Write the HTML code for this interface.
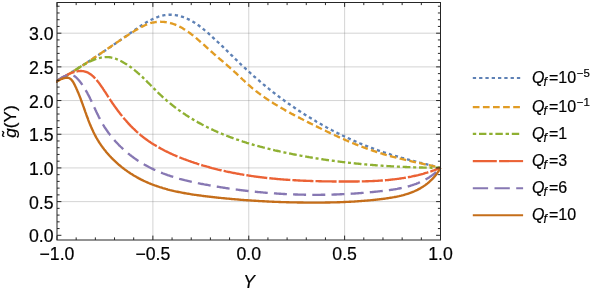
<!DOCTYPE html>
<html><head><meta charset="utf-8"><title>plot</title>
<style>
html,body{margin:0;padding:0;background:#fff;}
body{width:599px;height:294px;overflow:hidden;}
svg{display:block;font-family:"Liberation Sans",sans-serif;will-change:transform;}
text{fill:#000;stroke:#000;stroke-width:0.2px;}
</style></head><body>
<svg width="599" height="294" viewBox="0 0 599 294">
<rect x="0" y="0" width="599" height="294" fill="#ffffff"/>
<g stroke="#707070" stroke-opacity="0.36" stroke-width="0.85" fill="none">
<line x1="152.88" y1="2.5" x2="152.88" y2="240.0"/>
<line x1="248.75" y1="2.5" x2="248.75" y2="240.0"/>
<line x1="344.62" y1="2.5" x2="344.62" y2="240.0"/>
<line x1="57.0" y1="201.62" x2="440.5" y2="201.62"/>
<line x1="57.0" y1="167.93" x2="440.5" y2="167.93"/>
<line x1="57.0" y1="134.25" x2="440.5" y2="134.25"/>
<line x1="57.0" y1="100.56" x2="440.5" y2="100.56"/>
<line x1="57.0" y1="66.88" x2="440.5" y2="66.88"/>
<line x1="57.0" y1="33.19" x2="440.5" y2="33.19"/>
</g>
<clipPath id="c"><rect x="56.1" y="2.5" width="386.0" height="237.5"/></clipPath>
<g clip-path="url(#c)" fill="none" stroke-linejoin="round">
<path d="M55.5,82.10 L57.0,81.20 L58.0,80.63 L58.9,80.05 L59.9,79.48 L60.8,78.91 L61.7,78.34 L62.7,77.77 L63.6,77.20 L64.6,76.63 L65.5,76.06 L66.4,75.49 L67.3,74.92 L68.3,74.35 L69.2,73.78 L70.1,73.22 L71.0,72.65 L71.9,72.08 L72.8,71.51 L73.8,70.95 L74.7,70.38 L75.6,69.81 L76.5,69.24 L77.4,68.68 L78.3,68.11 L79.2,67.54 L80.1,66.97 L81.0,66.41 L81.9,65.84 L82.7,65.27 L83.6,64.70 L84.5,64.13 L85.4,63.56 L86.3,62.99 L87.2,62.42 L88.1,61.85 L88.9,61.28 L89.8,60.71 L90.7,60.13 L91.6,59.56 L92.5,58.98 L93.3,58.41 L94.2,57.83 L95.1,57.26 L96.0,56.68 L96.8,56.10 L97.7,55.52 L98.6,54.94 L99.5,54.36 L100.3,53.78 L101.2,53.19 L102.1,52.61 L103.0,52.02 L103.8,51.44 L104.7,50.85 L105.6,50.26 L106.5,49.67 L107.3,49.08 L108.2,48.48 L109.1,47.89 L110.0,47.29 L110.8,46.70 L111.7,46.10 L112.6,45.50 L113.5,44.89 L114.3,44.29 L115.2,43.68 L116.1,43.08 L117.0,42.47 L117.9,41.86 L118.7,41.24 L119.6,40.63 L120.5,40.01 L121.4,39.39 L122.3,38.77 L123.2,38.15 L124.1,37.53 L124.9,36.90 L125.8,36.27 L126.7,35.64 L127.6,35.01 L128.5,34.37 L129.4,33.74 L130.3,33.10 L131.2,32.45 L132.1,31.81 L133.0,31.17 L134.0,30.53 L134.9,29.88 L135.8,29.25 L136.7,28.61 L137.6,27.98 L138.5,27.35 L139.5,26.73 L140.4,26.11 L141.3,25.51 L142.2,24.91 L143.2,24.31 L144.1,23.73 L145.0,23.16 L146.0,22.60 L146.9,22.05 L147.9,21.52 L148.8,21.00 L149.8,20.49 L150.7,20.00 L151.7,19.53 L152.6,19.07 L153.6,18.63 L154.6,18.21 L155.5,17.81 L156.5,17.42 L157.5,17.07 L158.4,16.73 L159.4,16.41 L160.4,16.12 L161.4,15.85 L162.4,15.61 L163.4,15.40 L164.4,15.21 L165.4,15.05 L166.4,14.92 L167.4,14.82 L168.4,14.75 L169.4,14.70 L170.4,14.70 L171.4,14.72 L172.4,14.77 L173.5,14.86 L174.5,14.98 L175.5,15.12 L176.5,15.30 L177.6,15.50 L178.6,15.73 L179.6,15.98 L180.6,16.26 L181.6,16.57 L182.7,16.90 L183.7,17.26 L184.7,17.64 L185.7,18.04 L186.7,18.46 L187.6,18.90 L188.6,19.36 L189.6,19.85 L190.6,20.35 L191.5,20.87 L192.5,21.40 L193.4,21.96 L194.3,22.52 L195.2,23.11 L196.1,23.71 L197.0,24.32 L197.9,24.94 L198.8,25.58 L199.7,26.23 L200.6,26.89 L201.4,27.56 L202.3,28.24 L203.1,28.93 L204.0,29.62 L204.8,30.32 L205.7,31.03 L206.5,31.75 L207.3,32.46 L208.2,33.19 L209.0,33.91 L209.8,34.64 L210.6,35.38 L211.4,36.11 L212.2,36.84 L213.0,37.58 L213.8,38.31 L214.6,39.05 L215.4,39.79 L216.2,40.53 L217.0,41.27 L217.8,42.01 L218.6,42.75 L219.4,43.49 L220.1,44.24 L220.9,44.98 L221.7,45.72 L222.5,46.47 L223.3,47.21 L224.0,47.96 L224.8,48.70 L225.6,49.45 L226.3,50.19 L227.1,50.94 L227.9,51.68 L228.6,52.43 L229.4,53.17 L230.2,53.92 L230.9,54.66 L231.7,55.41 L232.5,56.15 L233.2,56.89 L234.0,57.63 L234.8,58.38 L235.5,59.12 L236.3,59.86 L237.1,60.60 L237.8,61.33 L238.6,62.07 L239.4,62.81 L240.1,63.54 L240.9,64.28 L241.7,65.01 L242.5,65.74 L243.2,66.47 L244.0,67.20 L244.8,67.92 L245.6,68.65 L246.3,69.37 L247.1,70.10 L247.9,70.82 L248.7,71.53 L249.5,72.25 L250.3,72.97 L251.0,73.68 L251.8,74.39 L252.6,75.10 L253.4,75.81 L254.2,76.51 L255.0,77.21 L255.8,77.92 L256.6,78.62 L257.4,79.31 L258.3,80.01 L259.1,80.70 L259.9,81.39 L260.7,82.08 L261.5,82.77 L262.3,83.46 L263.1,84.14 L264.0,84.82 L264.8,85.50 L265.6,86.18 L266.4,86.86 L267.3,87.53 L268.1,88.20 L268.9,88.87 L269.8,89.54 L270.6,90.20 L271.4,90.87 L272.3,91.53 L273.1,92.19 L274.0,92.84 L274.8,93.50 L275.7,94.15 L276.5,94.80 L277.4,95.45 L278.2,96.09 L279.1,96.74 L279.9,97.38 L280.8,98.02 L281.7,98.66 L282.5,99.29 L283.4,99.92 L284.2,100.55 L285.1,101.18 L286.0,101.81 L286.9,102.43 L287.7,103.05 L288.6,103.67 L289.5,104.29 L290.4,104.90 L291.2,105.51 L292.1,106.12 L293.0,106.73 L293.9,107.34 L294.8,107.94 L295.7,108.54 L296.6,109.14 L297.4,109.73 L298.3,110.32 L299.2,110.91 L300.1,111.50 L301.0,112.09 L301.9,112.67 L302.8,113.25 L303.7,113.83 L304.6,114.41 L305.5,114.98 L306.4,115.55 L307.4,116.12 L308.3,116.68 L309.2,117.25 L310.1,117.81 L311.0,118.37 L311.9,118.92 L312.8,119.47 L313.8,120.02 L314.7,120.57 L315.6,121.12 L316.5,121.66 L317.5,122.20 L318.4,122.74 L319.3,123.27 L320.3,123.80 L321.2,124.33 L322.1,124.86 L323.1,125.38 L324.0,125.91 L324.9,126.42 L325.9,126.94 L326.8,127.45 L327.8,127.96 L328.7,128.47 L329.6,128.98 L330.6,129.48 L331.5,129.98 L332.5,130.48 L333.4,130.97 L334.4,131.46 L335.3,131.95 L336.3,132.44 L337.3,132.92 L338.2,133.40 L339.2,133.88 L340.1,134.35 L341.1,134.82 L342.1,135.29 L343.0,135.76 L344.0,136.22 L345.0,136.68 L345.9,137.13 L346.9,137.59 L347.9,138.04 L348.9,138.49 L349.8,138.93 L350.8,139.38 L351.8,139.81 L352.8,140.25 L353.7,140.68 L354.7,141.11 L355.7,141.54 L356.7,141.97 L357.7,142.39 L358.7,142.81 L359.6,143.22 L360.6,143.63 L361.6,144.04 L362.6,144.45 L363.6,144.85 L364.6,145.25 L365.6,145.65 L366.6,146.04 L367.6,146.43 L368.6,146.82 L369.6,147.20 L370.6,147.58 L371.6,147.96 L372.6,148.34 L373.6,148.71 L374.6,149.08 L375.6,149.44 L376.6,149.80 L377.6,150.16 L378.6,150.52 L379.6,150.87 L380.7,151.22 L381.7,151.56 L382.7,151.91 L383.7,152.25 L384.7,152.58 L385.7,152.91 L386.8,153.25 L387.8,153.57 L388.8,153.90 L389.8,154.22 L390.8,154.54 L391.9,154.85 L392.9,155.17 L393.9,155.48 L394.9,155.79 L396.0,156.10 L397.0,156.40 L398.0,156.70 L399.0,157.00 L400.1,157.30 L401.1,157.59 L402.1,157.89 L403.2,158.18 L404.2,158.47 L405.2,158.75 L406.3,159.04 L407.3,159.32 L408.3,159.60 L409.4,159.89 L410.4,160.16 L411.4,160.44 L412.5,160.72 L413.5,160.99 L414.5,161.26 L415.6,161.53 L416.6,161.80 L417.7,162.07 L418.7,162.34 L419.7,162.61 L420.8,162.87 L421.8,163.14 L422.8,163.40 L423.9,163.66 L424.9,163.93 L426.0,164.19 L427.0,164.45 L428.0,164.71 L429.1,164.97 L430.1,165.23 L431.2,165.49 L432.2,165.74 L433.2,166.00 L434.3,166.26 L435.3,166.52 L436.3,166.77 L437.4,167.03 L438.4,167.29 L439.5,167.54 L440.5,167.80" stroke="#5E81B5" stroke-width="2.35" stroke-dasharray="3.2 3.1" stroke-dashoffset="-0.15"/>
<path d="M55.5,82.06 L57.0,81.20 L57.9,80.67 L58.9,80.13 L59.8,79.59 L60.7,79.05 L61.6,78.51 L62.6,77.97 L63.5,77.42 L64.4,76.88 L65.3,76.33 L66.2,75.78 L67.1,75.23 L68.0,74.68 L68.9,74.13 L69.9,73.58 L70.8,73.02 L71.6,72.46 L72.5,71.91 L73.4,71.35 L74.3,70.79 L75.2,70.22 L76.1,69.66 L77.0,69.10 L77.9,68.53 L78.8,67.97 L79.6,67.40 L80.5,66.83 L81.4,66.26 L82.3,65.69 L83.2,65.12 L84.0,64.55 L84.9,63.97 L85.8,63.40 L86.7,62.82 L87.5,62.25 L88.4,61.67 L89.3,61.09 L90.1,60.51 L91.0,59.93 L91.9,59.35 L92.7,58.77 L93.6,58.19 L94.5,57.61 L95.3,57.03 L96.2,56.44 L97.1,55.86 L97.9,55.27 L98.8,54.69 L99.7,54.10 L100.5,53.52 L101.4,52.93 L102.3,52.34 L103.1,51.76 L104.0,51.17 L104.9,50.58 L105.7,49.99 L106.6,49.40 L107.5,48.81 L108.3,48.22 L109.2,47.63 L110.1,47.04 L111.0,46.45 L111.8,45.86 L112.7,45.27 L113.6,44.68 L114.5,44.09 L115.3,43.50 L116.2,42.91 L117.1,42.32 L118.0,41.72 L118.9,41.13 L119.7,40.54 L120.6,39.95 L121.5,39.36 L122.4,38.77 L123.3,38.18 L124.2,37.59 L125.1,37.00 L126.0,36.41 L126.9,35.82 L127.8,35.23 L128.7,34.64 L129.6,34.05 L130.5,33.46 L131.4,32.87 L132.3,32.29 L133.3,31.70 L134.2,31.13 L135.1,30.55 L136.0,29.99 L137.0,29.43 L137.9,28.89 L138.8,28.35 L139.8,27.83 L140.7,27.32 L141.6,26.82 L142.6,26.34 L143.6,25.88 L144.5,25.44 L145.5,25.02 L146.4,24.61 L147.4,24.23 L148.4,23.88 L149.4,23.54 L150.3,23.24 L151.3,22.96 L152.3,22.71 L153.3,22.49 L154.3,22.30 L155.3,22.14 L156.4,22.01 L157.4,21.91 L158.4,21.84 L159.4,21.80 L160.4,21.78 L161.4,21.80 L162.5,21.84 L163.5,21.90 L164.5,22.00 L165.5,22.12 L166.5,22.27 L167.5,22.44 L168.5,22.64 L169.5,22.86 L170.5,23.11 L171.5,23.38 L172.4,23.68 L173.4,24.00 L174.4,24.34 L175.3,24.71 L176.3,25.10 L177.2,25.50 L178.2,25.93 L179.1,26.38 L180.0,26.85 L180.9,27.33 L181.8,27.83 L182.7,28.35 L183.6,28.89 L184.5,29.44 L185.4,30.01 L186.3,30.59 L187.2,31.18 L188.1,31.79 L188.9,32.41 L189.8,33.04 L190.7,33.68 L191.5,34.34 L192.4,35.00 L193.2,35.67 L194.1,36.36 L194.9,37.04 L195.7,37.74 L196.6,38.44 L197.4,39.15 L198.2,39.87 L199.1,40.59 L199.9,41.31 L200.7,42.04 L201.5,42.77 L202.3,43.50 L203.1,44.23 L204.0,44.96 L204.8,45.70 L205.6,46.43 L206.4,47.16 L207.2,47.90 L208.0,48.62 L208.8,49.35 L209.6,50.07 L210.4,50.79 L211.2,51.50 L212.0,52.21 L212.8,52.91 L213.6,53.61 L214.4,54.30 L215.2,54.99 L216.0,55.68 L216.7,56.37 L217.5,57.05 L218.3,57.73 L219.1,58.40 L219.9,59.08 L220.7,59.75 L221.5,60.43 L222.3,61.10 L223.1,61.77 L223.8,62.44 L224.6,63.12 L225.4,63.79 L226.2,64.46 L227.0,65.14 L227.8,65.81 L228.5,66.49 L229.3,67.17 L230.1,67.85 L230.9,68.54 L231.6,69.22 L232.4,69.92 L233.2,70.61 L234.0,71.31 L234.7,72.01 L235.5,72.72 L236.3,73.44 L237.0,74.15 L237.8,74.88 L238.6,75.60 L239.4,76.33 L240.1,77.06 L240.9,77.79 L241.7,78.52 L242.4,79.25 L243.2,79.99 L244.0,80.72 L244.8,81.44 L245.5,82.17 L246.3,82.89 L247.1,83.60 L247.9,84.31 L248.7,85.02 L249.5,85.72 L250.3,86.41 L251.1,87.10 L251.9,87.78 L252.7,88.46 L253.6,89.13 L254.4,89.79 L255.2,90.45 L256.0,91.10 L256.9,91.75 L257.7,92.39 L258.5,93.03 L259.4,93.66 L260.2,94.29 L261.1,94.91 L261.9,95.53 L262.8,96.14 L263.6,96.74 L264.5,97.35 L265.4,97.95 L266.2,98.54 L267.1,99.13 L268.0,99.71 L268.8,100.29 L269.7,100.87 L270.6,101.44 L271.5,102.01 L272.4,102.58 L273.3,103.14 L274.2,103.69 L275.1,104.25 L275.9,104.80 L276.8,105.34 L277.7,105.88 L278.7,106.42 L279.6,106.96 L280.5,107.49 L281.4,108.02 L282.3,108.55 L283.2,109.07 L284.1,109.59 L285.0,110.11 L285.9,110.62 L286.9,111.14 L287.8,111.65 L288.7,112.16 L289.6,112.66 L290.6,113.16 L291.5,113.66 L292.4,114.16 L293.4,114.66 L294.3,115.15 L295.2,115.65 L296.2,116.14 L297.1,116.63 L298.0,117.11 L299.0,117.60 L299.9,118.08 L300.8,118.57 L301.8,119.05 L302.7,119.53 L303.7,120.01 L304.6,120.49 L305.6,120.96 L306.5,121.44 L307.4,121.91 L308.4,122.39 L309.3,122.86 L310.3,123.34 L311.2,123.81 L312.2,124.28 L313.1,124.75 L314.1,125.22 L315.0,125.69 L316.0,126.16 L316.9,126.63 L317.9,127.10 L318.8,127.57 L319.8,128.03 L320.7,128.50 L321.7,128.96 L322.6,129.42 L323.6,129.89 L324.5,130.35 L325.5,130.80 L326.4,131.26 L327.4,131.72 L328.3,132.17 L329.3,132.63 L330.2,133.08 L331.2,133.53 L332.2,133.98 L333.1,134.43 L334.1,134.87 L335.0,135.32 L336.0,135.76 L337.0,136.20 L337.9,136.64 L338.9,137.08 L339.8,137.51 L340.8,137.95 L341.8,138.38 L342.7,138.81 L343.7,139.23 L344.7,139.66 L345.6,140.08 L346.6,140.50 L347.6,140.92 L348.5,141.33 L349.5,141.74 L350.5,142.16 L351.4,142.56 L352.4,142.97 L353.4,143.37 L354.4,143.77 L355.3,144.17 L356.3,144.56 L357.3,144.96 L358.3,145.34 L359.3,145.73 L360.2,146.11 L361.2,146.49 L362.2,146.87 L363.2,147.24 L364.2,147.62 L365.2,147.98 L366.2,148.35 L367.1,148.71 L368.1,149.07 L369.1,149.42 L370.1,149.77 L371.1,150.12 L372.1,150.47 L373.1,150.81 L374.1,151.14 L375.1,151.48 L376.1,151.81 L377.1,152.13 L378.1,152.45 L379.1,152.77 L380.1,153.09 L381.1,153.40 L382.1,153.70 L383.1,154.01 L384.1,154.31 L385.1,154.60 L386.1,154.89 L387.2,155.18 L388.2,155.47 L389.2,155.75 L390.2,156.03 L391.2,156.31 L392.2,156.58 L393.2,156.85 L394.3,157.12 L395.3,157.38 L396.3,157.64 L397.3,157.90 L398.4,158.16 L399.4,158.42 L400.4,158.67 L401.4,158.92 L402.4,159.17 L403.5,159.42 L404.5,159.66 L405.5,159.91 L406.6,160.15 L407.6,160.39 L408.6,160.63 L409.6,160.86 L410.7,161.10 L411.7,161.33 L412.7,161.57 L413.7,161.80 L414.8,162.03 L415.8,162.26 L416.8,162.49 L417.9,162.72 L418.9,162.95 L419.9,163.18 L421.0,163.41 L422.0,163.64 L423.0,163.87 L424.0,164.09 L425.1,164.32 L426.1,164.55 L427.1,164.78 L428.2,165.01 L429.2,165.23 L430.2,165.46 L431.3,165.69 L432.3,165.92 L433.3,166.15 L434.3,166.39 L435.4,166.62 L436.4,166.85 L437.4,167.09 L438.4,167.32 L439.5,167.56 L440.5,167.80" stroke="#E19C24" stroke-width="2.35" stroke-dasharray="6.65 3.35" stroke-dashoffset="-1.73"/>
<path d="M55.5,81.95 L57.0,81.20 L57.8,80.78 L58.7,80.34 L59.5,79.89 L60.4,79.43 L61.2,78.95 L62.1,78.47 L62.9,77.97 L63.7,77.47 L64.6,76.95 L65.4,76.43 L66.3,75.90 L67.1,75.36 L68.0,74.82 L68.8,74.27 L69.7,73.72 L70.5,73.16 L71.4,72.60 L72.2,72.04 L73.1,71.48 L73.9,70.92 L74.8,70.35 L75.6,69.79 L76.5,69.23 L77.4,68.67 L78.2,68.12 L79.1,67.57 L80.0,67.02 L80.8,66.48 L81.7,65.95 L82.6,65.42 L83.5,64.91 L84.4,64.39 L85.3,63.89 L86.2,63.40 L87.1,62.92 L88.0,62.45 L88.9,62.00 L89.8,61.56 L90.7,61.13 L91.6,60.71 L92.6,60.31 L93.5,59.93 L94.4,59.56 L95.4,59.22 L96.3,58.89 L97.3,58.58 L98.2,58.30 L99.2,58.04 L100.1,57.80 L101.1,57.60 L102.1,57.42 L103.0,57.28 L104.0,57.17 L105.0,57.09 L105.9,57.05 L106.9,57.05 L107.8,57.09 L108.8,57.17 L109.7,57.28 L110.7,57.43 L111.6,57.62 L112.6,57.84 L113.5,58.09 L114.4,58.37 L115.4,58.68 L116.3,59.02 L117.2,59.38 L118.1,59.76 L119.0,60.16 L119.9,60.58 L120.8,61.02 L121.7,61.47 L122.6,61.94 L123.4,62.42 L124.3,62.91 L125.1,63.42 L126.0,63.94 L126.8,64.46 L127.6,65.01 L128.4,65.56 L129.3,66.12 L130.1,66.69 L130.9,67.27 L131.7,67.86 L132.4,68.46 L133.2,69.07 L134.0,69.69 L134.8,70.32 L135.5,70.95 L136.3,71.59 L137.1,72.24 L137.8,72.90 L138.6,73.56 L139.3,74.22 L140.1,74.90 L140.8,75.58 L141.5,76.26 L142.3,76.95 L143.0,77.64 L143.7,78.34 L144.4,79.04 L145.2,79.75 L145.9,80.46 L146.6,81.17 L147.3,81.88 L148.0,82.59 L148.8,83.31 L149.5,84.03 L150.2,84.75 L150.9,85.47 L151.6,86.19 L152.3,86.91 L153.1,87.63 L153.8,88.35 L154.5,89.07 L155.2,89.78 L155.9,90.50 L156.6,91.21 L157.4,91.92 L158.1,92.63 L158.8,93.33 L159.6,94.04 L160.3,94.73 L161.0,95.43 L161.8,96.12 L162.5,96.80 L163.3,97.48 L164.0,98.16 L164.8,98.83 L165.5,99.49 L166.3,100.15 L167.0,100.81 L167.8,101.46 L168.6,102.11 L169.3,102.75 L170.1,103.38 L170.9,104.02 L171.7,104.65 L172.5,105.27 L173.2,105.89 L174.0,106.50 L174.8,107.11 L175.6,107.72 L176.4,108.32 L177.2,108.91 L178.0,109.51 L178.8,110.09 L179.6,110.67 L180.5,111.25 L181.3,111.83 L182.1,112.40 L182.9,112.96 L183.7,113.52 L184.6,114.08 L185.4,114.63 L186.2,115.17 L187.1,115.72 L187.9,116.25 L188.7,116.79 L189.6,117.32 L190.4,117.84 L191.3,118.36 L192.1,118.88 L193.0,119.39 L193.8,119.90 L194.7,120.40 L195.6,120.90 L196.4,121.40 L197.3,121.89 L198.1,122.38 L199.0,122.86 L199.9,123.34 L200.8,123.81 L201.6,124.28 L202.5,124.75 L203.4,125.21 L204.3,125.67 L205.2,126.12 L206.0,126.57 L206.9,127.01 L207.8,127.46 L208.7,127.89 L209.6,128.33 L210.5,128.76 L211.4,129.18 L212.3,129.61 L213.2,130.02 L214.1,130.44 L215.0,130.85 L215.9,131.26 L216.8,131.66 L217.7,132.06 L218.7,132.45 L219.6,132.85 L220.5,133.24 L221.4,133.62 L222.3,134.00 L223.2,134.38 L224.2,134.75 L225.1,135.13 L226.0,135.49 L226.9,135.86 L227.9,136.22 L228.8,136.58 L229.7,136.93 L230.7,137.28 L231.6,137.63 L232.5,137.97 L233.5,138.31 L234.4,138.65 L235.4,138.99 L236.3,139.32 L237.2,139.65 L238.2,139.97 L239.1,140.30 L240.1,140.62 L241.0,140.93 L242.0,141.24 L242.9,141.56 L243.9,141.86 L244.8,142.17 L245.8,142.47 L246.7,142.77 L247.7,143.06 L248.7,143.36 L249.6,143.65 L250.6,143.94 L251.5,144.22 L252.5,144.50 L253.5,144.78 L254.4,145.06 L255.4,145.33 L256.4,145.61 L257.3,145.88 L258.3,146.14 L259.3,146.41 L260.2,146.67 L261.2,146.93 L262.2,147.19 L263.1,147.44 L264.1,147.69 L265.1,147.94 L266.1,148.19 L267.0,148.44 L268.0,148.68 L269.0,148.92 L270.0,149.16 L270.9,149.40 L271.9,149.63 L272.9,149.86 L273.9,150.09 L274.8,150.32 L275.8,150.55 L276.8,150.77 L277.8,150.99 L278.8,151.21 L279.7,151.43 L280.7,151.65 L281.7,151.86 L282.7,152.07 L283.7,152.28 L284.6,152.49 L285.6,152.70 L286.6,152.91 L287.6,153.11 L288.6,153.31 L289.6,153.51 L290.5,153.71 L291.5,153.91 L292.5,154.10 L293.5,154.30 L294.5,154.49 L295.5,154.68 L296.4,154.87 L297.4,155.06 L298.4,155.24 L299.4,155.43 L300.4,155.61 L301.4,155.79 L302.3,155.97 L303.3,156.15 L304.3,156.33 L305.3,156.50 L306.3,156.67 L307.3,156.85 L308.3,157.02 L309.2,157.19 L310.2,157.35 L311.2,157.52 L312.2,157.68 L313.2,157.85 L314.2,158.01 L315.2,158.17 L316.1,158.32 L317.1,158.48 L318.1,158.64 L319.1,158.79 L320.1,158.94 L321.1,159.09 L322.1,159.24 L323.0,159.39 L324.0,159.54 L325.0,159.68 L326.0,159.82 L327.0,159.97 L328.0,160.11 L329.0,160.25 L330.0,160.38 L330.9,160.52 L331.9,160.66 L332.9,160.79 L333.9,160.92 L334.9,161.05 L335.9,161.18 L336.9,161.31 L337.9,161.43 L338.9,161.56 L339.8,161.68 L340.8,161.81 L341.8,161.93 L342.8,162.05 L343.8,162.16 L344.8,162.28 L345.8,162.40 L346.8,162.51 L347.8,162.62 L348.8,162.73 L349.7,162.84 L350.7,162.95 L351.7,163.06 L352.7,163.16 L353.7,163.27 L354.7,163.37 L355.7,163.47 L356.7,163.57 L357.7,163.67 L358.7,163.77 L359.7,163.87 L360.7,163.96 L361.6,164.06 L362.6,164.15 L363.6,164.24 L364.6,164.33 L365.6,164.42 L366.6,164.51 L367.6,164.60 L368.6,164.68 L369.6,164.77 L370.6,164.85 L371.6,164.93 L372.6,165.01 L373.6,165.09 L374.6,165.17 L375.6,165.24 L376.5,165.32 L377.5,165.39 L378.5,165.46 L379.5,165.54 L380.5,165.61 L381.5,165.68 L382.5,165.74 L383.5,165.81 L384.5,165.88 L385.5,165.94 L386.5,166.00 L387.5,166.07 L388.5,166.13 L389.5,166.19 L390.5,166.25 L391.5,166.30 L392.5,166.36 L393.5,166.41 L394.5,166.47 L395.5,166.52 L396.5,166.57 L397.5,166.62 L398.5,166.67 L399.5,166.72 L400.5,166.77 L401.5,166.82 L402.5,166.86 L403.5,166.90 L404.4,166.95 L405.4,166.99 L406.4,167.03 L407.4,167.07 L408.4,167.11 L409.4,167.15 L410.4,167.18 L411.4,167.22 L412.4,167.25 L413.4,167.28 L414.4,167.32 L415.4,167.35 L416.4,167.38 L417.4,167.41 L418.4,167.43 L419.4,167.46 L420.4,167.49 L421.4,167.51 L422.4,167.54 L423.5,167.56 L424.5,167.58 L425.5,167.60 L426.5,167.62 L427.5,167.64 L428.5,167.66 L429.5,167.68 L430.5,167.69 L431.5,167.71 L432.5,167.72 L433.5,167.73 L434.5,167.75 L435.5,167.76 L436.5,167.77 L437.5,167.78 L438.5,167.79 L439.5,167.79 L440.5,167.80" stroke="#8FB032" stroke-width="2.35" stroke-dasharray="3.0 2.8 7.75 2.8" stroke-dashoffset="-0.68"/>
<path d="M55.5,82.34 L57.0,81.20 L57.7,80.64 L58.5,80.07 L59.3,79.51 L60.1,78.94 L61.0,78.37 L61.8,77.82 L62.7,77.26 L63.6,76.72 L64.5,76.19 L65.5,75.67 L66.4,75.17 L67.4,74.69 L68.4,74.22 L69.4,73.78 L70.3,73.37 L71.3,72.98 L72.3,72.61 L73.3,72.28 L74.3,71.99 L75.3,71.73 L76.3,71.50 L77.3,71.32 L78.3,71.17 L79.3,71.08 L80.3,71.02 L81.3,71.02 L82.2,71.07 L83.2,71.17 L84.1,71.32 L85.0,71.53 L85.9,71.80 L86.8,72.13 L87.6,72.51 L88.5,72.93 L89.3,73.41 L90.1,73.93 L90.9,74.49 L91.7,75.09 L92.4,75.73 L93.2,76.40 L93.9,77.10 L94.6,77.83 L95.3,78.58 L96.0,79.35 L96.7,80.14 L97.4,80.95 L98.0,81.77 L98.7,82.60 L99.3,83.44 L99.9,84.28 L100.5,85.13 L101.1,85.97 L101.7,86.82 L102.3,87.67 L102.9,88.52 L103.4,89.37 L104.0,90.22 L104.5,91.07 L105.1,91.92 L105.7,92.77 L106.2,93.62 L106.8,94.48 L107.3,95.33 L107.8,96.18 L108.4,97.03 L109.0,97.88 L109.5,98.73 L110.1,99.58 L110.6,100.43 L111.2,101.27 L111.8,102.12 L112.3,102.96 L112.9,103.80 L113.5,104.64 L114.1,105.48 L114.7,106.32 L115.3,107.15 L115.9,107.98 L116.5,108.81 L117.1,109.64 L117.7,110.46 L118.3,111.28 L118.9,112.10 L119.6,112.91 L120.2,113.72 L120.8,114.53 L121.5,115.33 L122.1,116.13 L122.8,116.93 L123.4,117.72 L124.1,118.50 L124.7,119.29 L125.4,120.06 L126.1,120.84 L126.8,121.61 L127.5,122.37 L128.1,123.13 L128.8,123.88 L129.5,124.63 L130.2,125.37 L130.9,126.11 L131.7,126.84 L132.4,127.56 L133.1,128.28 L133.8,128.99 L134.6,129.70 L135.3,130.40 L136.1,131.09 L136.8,131.78 L137.6,132.46 L138.3,133.13 L139.1,133.79 L139.9,134.45 L140.6,135.10 L141.4,135.74 L142.2,136.38 L143.0,137.00 L143.8,137.62 L144.6,138.24 L145.4,138.84 L146.3,139.44 L147.1,140.03 L147.9,140.62 L148.7,141.19 L149.6,141.77 L150.4,142.33 L151.3,142.89 L152.1,143.44 L153.0,143.98 L153.8,144.52 L154.7,145.05 L155.6,145.58 L156.4,146.09 L157.3,146.61 L158.2,147.11 L159.1,147.61 L160.0,148.11 L160.8,148.60 L161.7,149.08 L162.6,149.56 L163.5,150.03 L164.4,150.49 L165.3,150.95 L166.3,151.41 L167.2,151.86 L168.1,152.30 L169.0,152.74 L169.9,153.17 L170.9,153.60 L171.8,154.02 L172.7,154.44 L173.6,154.86 L174.6,155.26 L175.5,155.67 L176.5,156.07 L177.4,156.46 L178.3,156.85 L179.3,157.24 L180.2,157.62 L181.2,157.99 L182.1,158.36 L183.1,158.73 L184.0,159.10 L185.0,159.46 L186.0,159.81 L186.9,160.16 L187.9,160.51 L188.8,160.85 L189.8,161.19 L190.8,161.53 L191.7,161.86 L192.7,162.19 L193.7,162.52 L194.6,162.84 L195.6,163.16 L196.6,163.47 L197.5,163.78 L198.5,164.09 L199.5,164.40 L200.4,164.70 L201.4,165.00 L202.4,165.29 L203.3,165.58 L204.3,165.87 L205.3,166.15 L206.3,166.43 L207.2,166.71 L208.2,166.98 L209.2,167.25 L210.2,167.52 L211.2,167.78 L212.1,168.05 L213.1,168.30 L214.1,168.56 L215.1,168.81 L216.1,169.06 L217.1,169.30 L218.0,169.54 L219.0,169.78 L220.0,170.02 L221.0,170.25 L222.0,170.48 L223.0,170.71 L224.0,170.93 L225.0,171.15 L225.9,171.37 L226.9,171.58 L227.9,171.79 L228.9,172.00 L229.9,172.21 L230.9,172.41 L231.9,172.61 L232.9,172.81 L233.9,173.00 L234.9,173.20 L235.9,173.38 L236.9,173.57 L237.9,173.75 L238.9,173.93 L239.9,174.11 L240.9,174.29 L241.9,174.46 L242.9,174.63 L243.9,174.80 L244.9,174.96 L245.9,175.13 L246.9,175.28 L247.9,175.44 L248.9,175.60 L249.9,175.75 L250.9,175.90 L251.9,176.04 L252.9,176.19 L253.9,176.33 L254.9,176.47 L255.9,176.61 L256.9,176.74 L257.9,176.88 L258.9,177.01 L260.0,177.13 L261.0,177.26 L262.0,177.38 L263.0,177.50 L264.0,177.62 L265.0,177.74 L266.0,177.85 L267.0,177.97 L268.0,178.08 L269.0,178.18 L270.1,178.29 L271.1,178.39 L272.1,178.49 L273.1,178.59 L274.1,178.69 L275.1,178.79 L276.1,178.88 L277.2,178.97 L278.2,179.06 L279.2,179.15 L280.2,179.23 L281.2,179.32 L282.2,179.40 L283.3,179.48 L284.3,179.56 L285.3,179.63 L286.3,179.71 L287.3,179.78 L288.3,179.85 L289.4,179.92 L290.4,179.99 L291.4,180.05 L292.4,180.11 L293.4,180.18 L294.5,180.24 L295.5,180.29 L296.5,180.35 L297.5,180.41 L298.5,180.46 L299.6,180.51 L300.6,180.56 L301.6,180.61 L302.6,180.66 L303.6,180.71 L304.7,180.75 L305.7,180.79 L306.7,180.84 L307.7,180.88 L308.8,180.91 L309.8,180.95 L310.8,180.99 L311.8,181.02 L312.8,181.06 L313.9,181.09 L314.9,181.12 L315.9,181.15 L316.9,181.18 L318.0,181.20 L319.0,181.23 L320.0,181.25 L321.0,181.28 L322.1,181.30 L323.1,181.32 L324.1,181.34 L325.1,181.36 L326.1,181.38 L327.2,181.39 L328.2,181.41 L329.2,181.42 L330.2,181.44 L331.3,181.45 L332.3,181.46 L333.3,181.47 L334.3,181.48 L335.4,181.49 L336.4,181.50 L337.4,181.50 L338.4,181.51 L339.4,181.52 L340.5,181.52 L341.5,181.52 L342.5,181.53 L343.5,181.53 L344.6,181.53 L345.6,181.53 L346.6,181.53 L347.6,181.53 L348.7,181.53 L349.7,181.52 L350.7,181.52 L351.7,181.52 L352.7,181.51 L353.8,181.50 L354.8,181.49 L355.8,181.48 L356.8,181.47 L357.8,181.46 L358.9,181.44 L359.9,181.42 L360.9,181.40 L361.9,181.38 L362.9,181.36 L364.0,181.34 L365.0,181.31 L366.0,181.28 L367.0,181.25 L368.0,181.22 L369.0,181.18 L370.1,181.14 L371.1,181.10 L372.1,181.06 L373.1,181.01 L374.1,180.96 L375.1,180.91 L376.2,180.86 L377.2,180.80 L378.2,180.74 L379.2,180.68 L380.2,180.61 L381.2,180.54 L382.2,180.47 L383.2,180.39 L384.2,180.31 L385.3,180.23 L386.3,180.14 L387.3,180.05 L388.3,179.96 L389.3,179.86 L390.3,179.76 L391.3,179.65 L392.3,179.54 L393.3,179.43 L394.3,179.31 L395.3,179.19 L396.3,179.06 L397.3,178.93 L398.3,178.80 L399.3,178.66 L400.3,178.52 L401.3,178.37 L402.3,178.21 L403.3,178.05 L404.3,177.89 L405.3,177.72 L406.3,177.55 L407.3,177.37 L408.3,177.19 L409.3,177.00 L410.3,176.81 L411.3,176.61 L412.2,176.40 L413.2,176.19 L414.2,175.98 L415.2,175.76 L416.2,175.53 L417.2,175.30 L418.2,175.06 L419.1,174.82 L420.1,174.57 L421.1,174.31 L422.1,174.05 L423.1,173.78 L424.0,173.50 L425.0,173.22 L426.0,172.93 L427.0,172.64 L427.9,172.34 L428.9,172.03 L429.9,171.72 L430.9,171.40 L431.8,171.07 L432.8,170.73 L433.8,170.39 L434.7,170.04 L435.7,169.69 L436.7,169.33 L437.6,168.96 L438.6,168.58 L439.5,168.19 L440.5,167.80" stroke="#EB6235" stroke-width="2.35" stroke-dasharray="21.1 2.05" stroke-dashoffset="-0.68"/>
<path d="M55.5,82.57 L57.0,81.20 L57.8,80.46 L58.7,79.73 L59.6,79.04 L60.5,78.39 L61.5,77.77 L62.5,77.20 L63.5,76.68 L64.5,76.22 L65.5,75.83 L66.5,75.50 L67.6,75.25 L68.6,75.07 L69.6,74.98 L70.6,74.99 L71.5,75.08 L72.4,75.29 L73.3,75.60 L74.2,76.01 L75.0,76.52 L75.8,77.11 L76.5,77.77 L77.2,78.48 L77.9,79.23 L78.6,80.01 L79.3,80.81 L79.9,81.61 L80.6,82.43 L81.2,83.25 L81.8,84.09 L82.4,84.93 L83.0,85.79 L83.5,86.65 L84.1,87.52 L84.7,88.40 L85.2,89.29 L85.7,90.18 L86.2,91.08 L86.7,91.99 L87.3,92.90 L87.7,93.82 L88.2,94.75 L88.7,95.68 L89.2,96.61 L89.7,97.55 L90.1,98.50 L90.6,99.44 L91.0,100.39 L91.5,101.35 L91.9,102.30 L92.4,103.26 L92.8,104.22 L93.3,105.18 L93.7,106.14 L94.2,107.11 L94.6,108.07 L95.1,109.03 L95.5,110.00 L96.0,110.96 L96.4,111.92 L96.9,112.88 L97.3,113.84 L97.8,114.79 L98.3,115.75 L98.7,116.70 L99.2,117.64 L99.7,118.59 L100.2,119.52 L100.7,120.46 L101.2,121.39 L101.7,122.31 L102.2,123.23 L102.8,124.15 L103.3,125.05 L103.9,125.96 L104.4,126.85 L105.0,127.74 L105.6,128.63 L106.2,129.51 L106.8,130.38 L107.4,131.25 L108.0,132.11 L108.6,132.96 L109.3,133.81 L109.9,134.65 L110.6,135.49 L111.2,136.32 L111.9,137.14 L112.6,137.96 L113.2,138.77 L113.9,139.57 L114.6,140.37 L115.3,141.16 L116.0,141.95 L116.7,142.72 L117.5,143.49 L118.2,144.26 L118.9,145.02 L119.7,145.77 L120.4,146.51 L121.2,147.25 L122.0,147.97 L122.7,148.70 L123.5,149.41 L124.3,150.12 L125.1,150.82 L125.9,151.51 L126.7,152.20 L127.5,152.88 L128.3,153.55 L129.1,154.21 L129.9,154.87 L130.8,155.52 L131.6,156.16 L132.5,156.79 L133.3,157.42 L134.2,158.03 L135.0,158.64 L135.9,159.25 L136.7,159.84 L137.6,160.43 L138.5,161.00 L139.4,161.57 L140.3,162.14 L141.1,162.69 L142.0,163.24 L142.9,163.77 L143.8,164.30 L144.7,164.82 L145.7,165.33 L146.6,165.84 L147.5,166.33 L148.4,166.82 L149.3,167.30 L150.3,167.77 L151.2,168.24 L152.1,168.69 L153.1,169.14 L154.0,169.59 L155.0,170.02 L155.9,170.45 L156.9,170.87 L157.8,171.28 L158.8,171.69 L159.7,172.08 L160.7,172.48 L161.7,172.86 L162.6,173.24 L163.6,173.61 L164.6,173.98 L165.6,174.34 L166.6,174.69 L167.5,175.04 L168.5,175.38 L169.5,175.72 L170.5,176.05 L171.5,176.38 L172.5,176.70 L173.5,177.01 L174.5,177.32 L175.5,177.62 L176.5,177.92 L177.5,178.21 L178.5,178.50 L179.5,178.78 L180.6,179.06 L181.6,179.34 L182.6,179.61 L183.6,179.87 L184.6,180.13 L185.7,180.39 L186.7,180.64 L187.7,180.89 L188.7,181.13 L189.8,181.37 L190.8,181.61 L191.8,181.84 L192.8,182.07 L193.9,182.30 L194.9,182.52 L195.9,182.74 L197.0,182.95 L198.0,183.17 L199.1,183.38 L200.1,183.58 L201.1,183.79 L202.2,183.99 L203.2,184.19 L204.2,184.39 L205.3,184.58 L206.3,184.77 L207.4,184.96 L208.4,185.15 L209.5,185.34 L210.5,185.52 L211.5,185.71 L212.6,185.89 L213.6,186.06 L214.7,186.24 L215.7,186.42 L216.7,186.59 L217.8,186.76 L218.8,186.93 L219.9,187.10 L220.9,187.27 L222.0,187.43 L223.0,187.60 L224.0,187.76 L225.1,187.92 L226.1,188.07 L227.2,188.23 L228.2,188.38 L229.2,188.54 L230.3,188.69 L231.3,188.83 L232.4,188.98 L233.4,189.13 L234.5,189.27 L235.5,189.41 L236.6,189.55 L237.6,189.69 L238.6,189.82 L239.7,189.96 L240.7,190.09 L241.8,190.22 L242.8,190.35 L243.9,190.48 L244.9,190.60 L245.9,190.73 L247.0,190.85 L248.0,190.97 L249.1,191.09 L250.1,191.20 L251.2,191.32 L252.2,191.43 L253.3,191.54 L254.3,191.65 L255.3,191.76 L256.4,191.86 L257.4,191.96 L258.5,192.07 L259.5,192.17 L260.6,192.26 L261.6,192.36 L262.7,192.45 L263.7,192.55 L264.8,192.64 L265.8,192.73 L266.8,192.81 L267.9,192.90 L268.9,192.98 L270.0,193.06 L271.0,193.14 L272.1,193.22 L273.1,193.30 L274.2,193.37 L275.2,193.44 L276.3,193.51 L277.3,193.58 L278.4,193.65 L279.4,193.71 L280.5,193.78 L281.5,193.84 L282.5,193.90 L283.6,193.96 L284.6,194.01 L285.7,194.07 L286.7,194.12 L287.8,194.17 L288.8,194.22 L289.9,194.26 L290.9,194.31 L292.0,194.35 L293.0,194.39 L294.1,194.43 L295.1,194.47 L296.2,194.50 L297.2,194.54 L298.3,194.57 L299.3,194.60 L300.4,194.63 L301.4,194.65 L302.5,194.68 L303.5,194.70 L304.6,194.72 L305.6,194.74 L306.7,194.75 L307.7,194.77 L308.7,194.78 L309.8,194.79 L310.8,194.80 L311.9,194.81 L312.9,194.82 L314.0,194.82 L315.0,194.82 L316.1,194.82 L317.1,194.82 L318.2,194.81 L319.2,194.81 L320.3,194.80 L321.3,194.79 L322.4,194.78 L323.4,194.77 L324.5,194.75 L325.5,194.73 L326.6,194.71 L327.6,194.69 L328.7,194.67 L329.7,194.65 L330.8,194.62 L331.9,194.59 L332.9,194.56 L334.0,194.53 L335.0,194.49 L336.1,194.46 L337.1,194.42 L338.2,194.38 L339.2,194.34 L340.3,194.29 L341.3,194.25 L342.4,194.20 L343.4,194.15 L344.5,194.10 L345.5,194.05 L346.6,193.99 L347.6,193.93 L348.7,193.87 L349.7,193.81 L350.8,193.75 L351.8,193.68 L352.9,193.62 L353.9,193.55 L355.0,193.48 L356.0,193.41 L357.1,193.33 L358.2,193.26 L359.2,193.18 L360.3,193.10 L361.3,193.01 L362.4,192.93 L363.4,192.84 L364.5,192.76 L365.5,192.67 L366.6,192.57 L367.6,192.48 L368.7,192.38 L369.7,192.29 L370.8,192.19 L371.8,192.09 L372.9,191.98 L374.0,191.88 L375.0,191.77 L376.1,191.66 L377.1,191.55 L378.2,191.44 L379.2,191.32 L380.3,191.20 L381.3,191.08 L382.4,190.96 L383.4,190.84 L384.5,190.71 L385.6,190.58 L386.6,190.45 L387.7,190.31 L388.7,190.17 L389.8,190.03 L390.8,189.88 L391.9,189.72 L392.9,189.56 L393.9,189.40 L395.0,189.23 L396.0,189.05 L397.1,188.87 L398.1,188.68 L399.1,188.48 L400.2,188.27 L401.2,188.06 L402.2,187.84 L403.2,187.62 L404.3,187.38 L405.3,187.14 L406.3,186.88 L407.3,186.62 L408.3,186.35 L409.3,186.07 L410.3,185.78 L411.3,185.48 L412.3,185.16 L413.2,184.84 L414.2,184.50 L415.2,184.16 L416.2,183.80 L417.1,183.43 L418.1,183.05 L419.0,182.65 L420.0,182.24 L420.9,181.82 L421.8,181.39 L422.8,180.94 L423.7,180.47 L424.6,180.00 L425.5,179.51 L426.4,179.00 L427.3,178.48 L428.2,177.94 L429.1,177.38 L429.9,176.81 L430.8,176.23 L431.6,175.62 L432.5,175.00 L433.3,174.37 L434.2,173.71 L435.0,173.04 L435.8,172.35 L436.6,171.64 L437.4,170.91 L438.2,170.16 L439.0,169.39 L439.7,168.61 L440.5,167.80" stroke="#8778B3" stroke-width="2.35" stroke-dasharray="13 6.2" stroke-dashoffset="-1.13"/>
<path d="M55.5,82.03 L57.0,81.20 L57.8,80.75 L58.7,80.27 L59.7,79.77 L60.8,79.27 L62.0,78.80 L63.1,78.39 L64.3,78.05 L65.4,77.81 L66.5,77.69 L67.6,77.71 L68.5,77.90 L69.4,78.23 L70.2,78.69 L70.9,79.27 L71.6,79.95 L72.2,80.71 L72.8,81.55 L73.4,82.45 L73.9,83.39 L74.4,84.36 L74.9,85.34 L75.3,86.33 L75.8,87.32 L76.3,88.31 L76.7,89.31 L77.2,90.31 L77.6,91.32 L78.0,92.33 L78.5,93.34 L78.9,94.36 L79.3,95.37 L79.7,96.39 L80.1,97.42 L80.5,98.44 L80.9,99.47 L81.2,100.50 L81.6,101.53 L82.0,102.56 L82.4,103.59 L82.8,104.62 L83.1,105.65 L83.5,106.69 L83.9,107.72 L84.2,108.75 L84.6,109.79 L85.0,110.82 L85.3,111.85 L85.7,112.88 L86.1,113.91 L86.4,114.94 L86.8,115.97 L87.2,117.00 L87.6,118.02 L88.0,119.04 L88.3,120.06 L88.7,121.08 L89.1,122.09 L89.5,123.10 L89.9,124.11 L90.3,125.12 L90.8,126.12 L91.2,127.11 L91.6,128.11 L92.1,129.10 L92.5,130.08 L93.0,131.06 L93.4,132.03 L93.9,133.00 L94.4,133.97 L94.9,134.93 L95.4,135.88 L95.9,136.83 L96.4,137.77 L97.0,138.71 L97.5,139.64 L98.1,140.56 L98.6,141.48 L99.2,142.39 L99.8,143.29 L100.4,144.19 L101.0,145.08 L101.6,145.96 L102.3,146.84 L102.9,147.71 L103.6,148.57 L104.2,149.43 L104.9,150.28 L105.6,151.12 L106.2,151.96 L106.9,152.79 L107.6,153.61 L108.4,154.42 L109.1,155.23 L109.8,156.03 L110.6,156.82 L111.3,157.61 L112.1,158.38 L112.8,159.15 L113.6,159.92 L114.4,160.67 L115.2,161.42 L116.0,162.15 L116.8,162.89 L117.6,163.61 L118.4,164.32 L119.2,165.03 L120.1,165.73 L120.9,166.42 L121.7,167.10 L122.6,167.77 L123.5,168.44 L124.3,169.09 L125.2,169.74 L126.1,170.38 L127.0,171.01 L127.8,171.63 L128.7,172.25 L129.6,172.85 L130.5,173.45 L131.5,174.03 L132.4,174.61 L133.3,175.18 L134.2,175.74 L135.2,176.29 L136.1,176.83 L137.0,177.36 L138.0,177.88 L138.9,178.39 L139.9,178.90 L140.8,179.39 L141.8,179.87 L142.8,180.35 L143.7,180.81 L144.7,181.27 L145.7,181.72 L146.7,182.16 L147.7,182.58 L148.6,183.01 L149.6,183.42 L150.6,183.82 L151.6,184.22 L152.6,184.60 L153.6,184.98 L154.6,185.36 L155.7,185.72 L156.7,186.07 L157.7,186.42 L158.7,186.76 L159.7,187.10 L160.8,187.42 L161.8,187.74 L162.8,188.06 L163.9,188.36 L164.9,188.66 L165.9,188.95 L167.0,189.24 L168.0,189.52 L169.1,189.79 L170.1,190.06 L171.2,190.32 L172.2,190.57 L173.3,190.82 L174.3,191.07 L175.4,191.30 L176.4,191.54 L177.5,191.76 L178.6,191.99 L179.6,192.20 L180.7,192.42 L181.8,192.62 L182.8,192.83 L183.9,193.03 L185.0,193.22 L186.1,193.41 L187.1,193.60 L188.2,193.78 L189.3,193.96 L190.4,194.13 L191.5,194.30 L192.5,194.47 L193.6,194.63 L194.7,194.79 L195.8,194.95 L196.9,195.10 L197.9,195.25 L199.0,195.40 L200.1,195.54 L201.2,195.69 L202.3,195.83 L203.4,195.97 L204.5,196.10 L205.5,196.24 L206.6,196.37 L207.7,196.50 L208.8,196.62 L209.9,196.75 L211.0,196.88 L212.1,197.00 L213.2,197.12 L214.2,197.24 L215.3,197.36 L216.4,197.48 L217.5,197.60 L218.6,197.71 L219.7,197.82 L220.7,197.94 L221.8,198.05 L222.9,198.16 L224.0,198.26 L225.1,198.37 L226.2,198.47 L227.2,198.58 L228.3,198.68 L229.4,198.78 L230.5,198.88 L231.6,198.98 L232.7,199.08 L233.7,199.17 L234.8,199.27 L235.9,199.36 L237.0,199.45 L238.1,199.54 L239.2,199.63 L240.2,199.71 L241.3,199.80 L242.4,199.88 L243.5,199.97 L244.6,200.05 L245.6,200.13 L246.7,200.21 L247.8,200.29 L248.9,200.36 L250.0,200.44 L251.0,200.51 L252.1,200.58 L253.2,200.65 L254.3,200.72 L255.4,200.79 L256.4,200.86 L257.5,200.93 L258.6,200.99 L259.7,201.05 L260.8,201.12 L261.8,201.18 L262.9,201.24 L264.0,201.29 L265.1,201.35 L266.2,201.41 L267.2,201.46 L268.3,201.51 L269.4,201.56 L270.5,201.61 L271.6,201.66 L272.6,201.71 L273.7,201.76 L274.8,201.80 L275.9,201.85 L277.0,201.89 L278.0,201.93 L279.1,201.97 L280.2,202.01 L281.3,202.05 L282.3,202.08 L283.4,202.12 L284.5,202.15 L285.6,202.18 L286.7,202.22 L287.7,202.25 L288.8,202.28 L289.9,202.30 L291.0,202.33 L292.1,202.36 L293.1,202.38 L294.2,202.40 L295.3,202.42 L296.4,202.44 L297.5,202.46 L298.5,202.48 L299.6,202.50 L300.7,202.52 L301.8,202.53 L302.9,202.54 L303.9,202.56 L305.0,202.57 L306.1,202.58 L307.2,202.58 L308.2,202.59 L309.3,202.60 L310.4,202.60 L311.5,202.61 L312.6,202.61 L313.6,202.61 L314.7,202.61 L315.8,202.61 L316.9,202.61 L318.0,202.61 L319.1,202.60 L320.1,202.59 L321.2,202.59 L322.3,202.58 L323.4,202.57 L324.5,202.55 L325.5,202.54 L326.6,202.53 L327.7,202.51 L328.8,202.49 L329.9,202.47 L330.9,202.45 L332.0,202.42 L333.1,202.40 L334.2,202.37 L335.3,202.34 L336.4,202.31 L337.4,202.28 L338.5,202.25 L339.6,202.21 L340.7,202.17 L341.8,202.13 L342.9,202.09 L343.9,202.04 L345.0,202.00 L346.1,201.95 L347.2,201.90 L348.3,201.85 L349.4,201.79 L350.4,201.73 L351.5,201.68 L352.6,201.61 L353.7,201.55 L354.8,201.48 L355.9,201.42 L356.9,201.34 L358.0,201.27 L359.1,201.20 L360.2,201.12 L361.3,201.04 L362.4,200.95 L363.5,200.87 L364.5,200.78 L365.6,200.69 L366.7,200.60 L367.8,200.50 L368.9,200.40 L370.0,200.30 L371.1,200.20 L372.1,200.09 L373.2,199.98 L374.3,199.87 L375.4,199.75 L376.5,199.63 L377.6,199.51 L378.7,199.39 L379.8,199.26 L380.8,199.13 L381.9,199.00 L383.0,198.86 L384.1,198.72 L385.2,198.57 L386.3,198.42 L387.4,198.27 L388.5,198.11 L389.5,197.94 L390.6,197.77 L391.7,197.59 L392.8,197.40 L393.9,197.21 L394.9,197.01 L396.0,196.80 L397.1,196.58 L398.1,196.36 L399.2,196.12 L400.2,195.87 L401.3,195.62 L402.3,195.35 L403.4,195.08 L404.4,194.79 L405.4,194.49 L406.5,194.18 L407.5,193.86 L408.5,193.52 L409.5,193.17 L410.5,192.81 L411.5,192.43 L412.5,192.04 L413.5,191.64 L414.5,191.22 L415.4,190.79 L416.4,190.34 L417.4,189.87 L418.3,189.39 L419.2,188.89 L420.2,188.37 L421.1,187.84 L422.0,187.29 L422.9,186.72 L423.8,186.13 L424.7,185.53 L425.6,184.90 L426.4,184.25 L427.3,183.59 L428.1,182.90 L429.0,182.20 L429.8,181.47 L430.6,180.73 L431.4,179.97 L432.2,179.20 L432.9,178.41 L433.7,177.60 L434.4,176.78 L435.1,175.94 L435.8,175.08 L436.5,174.22 L437.1,173.34 L437.7,172.44 L438.3,171.54 L438.9,170.62 L439.5,169.69 L440.0,168.75 L440.5,167.80" stroke="#C56E1A" stroke-width="2.35"/>
</g>
<g stroke="#111111" stroke-width="0.9" fill="none">
<line x1="57.00" y1="240.0" x2="57.00" y2="235.6"/>
<line x1="57.00" y1="2.5" x2="57.00" y2="6.9"/>
<line x1="76.17" y1="240.0" x2="76.17" y2="237.4"/>
<line x1="76.17" y1="2.5" x2="76.17" y2="5.1"/>
<line x1="95.35" y1="240.0" x2="95.35" y2="237.4"/>
<line x1="95.35" y1="2.5" x2="95.35" y2="5.1"/>
<line x1="114.53" y1="240.0" x2="114.53" y2="237.4"/>
<line x1="114.53" y1="2.5" x2="114.53" y2="5.1"/>
<line x1="133.70" y1="240.0" x2="133.70" y2="237.4"/>
<line x1="133.70" y1="2.5" x2="133.70" y2="5.1"/>
<line x1="152.88" y1="240.0" x2="152.88" y2="235.6"/>
<line x1="152.88" y1="2.5" x2="152.88" y2="6.9"/>
<line x1="172.05" y1="240.0" x2="172.05" y2="237.4"/>
<line x1="172.05" y1="2.5" x2="172.05" y2="5.1"/>
<line x1="191.22" y1="240.0" x2="191.22" y2="237.4"/>
<line x1="191.22" y1="2.5" x2="191.22" y2="5.1"/>
<line x1="210.40" y1="240.0" x2="210.40" y2="237.4"/>
<line x1="210.40" y1="2.5" x2="210.40" y2="5.1"/>
<line x1="229.57" y1="240.0" x2="229.57" y2="237.4"/>
<line x1="229.57" y1="2.5" x2="229.57" y2="5.1"/>
<line x1="248.75" y1="240.0" x2="248.75" y2="235.6"/>
<line x1="248.75" y1="2.5" x2="248.75" y2="6.9"/>
<line x1="267.93" y1="240.0" x2="267.93" y2="237.4"/>
<line x1="267.93" y1="2.5" x2="267.93" y2="5.1"/>
<line x1="287.10" y1="240.0" x2="287.10" y2="237.4"/>
<line x1="287.10" y1="2.5" x2="287.10" y2="5.1"/>
<line x1="306.27" y1="240.0" x2="306.27" y2="237.4"/>
<line x1="306.27" y1="2.5" x2="306.27" y2="5.1"/>
<line x1="325.45" y1="240.0" x2="325.45" y2="237.4"/>
<line x1="325.45" y1="2.5" x2="325.45" y2="5.1"/>
<line x1="344.62" y1="240.0" x2="344.62" y2="235.6"/>
<line x1="344.62" y1="2.5" x2="344.62" y2="6.9"/>
<line x1="363.80" y1="240.0" x2="363.80" y2="237.4"/>
<line x1="363.80" y1="2.5" x2="363.80" y2="5.1"/>
<line x1="382.98" y1="240.0" x2="382.98" y2="237.4"/>
<line x1="382.98" y1="2.5" x2="382.98" y2="5.1"/>
<line x1="402.15" y1="240.0" x2="402.15" y2="237.4"/>
<line x1="402.15" y1="2.5" x2="402.15" y2="5.1"/>
<line x1="421.33" y1="240.0" x2="421.33" y2="237.4"/>
<line x1="421.33" y1="2.5" x2="421.33" y2="5.1"/>
<line x1="440.50" y1="240.0" x2="440.50" y2="235.6"/>
<line x1="440.50" y1="2.5" x2="440.50" y2="6.9"/>
<line x1="57.0" y1="235.30" x2="61.4" y2="235.30"/>
<line x1="440.5" y1="235.30" x2="436.1" y2="235.30"/>
<line x1="57.0" y1="228.56" x2="59.6" y2="228.56"/>
<line x1="440.5" y1="228.56" x2="437.9" y2="228.56"/>
<line x1="57.0" y1="221.83" x2="59.6" y2="221.83"/>
<line x1="440.5" y1="221.83" x2="437.9" y2="221.83"/>
<line x1="57.0" y1="215.09" x2="59.6" y2="215.09"/>
<line x1="440.5" y1="215.09" x2="437.9" y2="215.09"/>
<line x1="57.0" y1="208.35" x2="59.6" y2="208.35"/>
<line x1="440.5" y1="208.35" x2="437.9" y2="208.35"/>
<line x1="57.0" y1="201.62" x2="61.4" y2="201.62"/>
<line x1="440.5" y1="201.62" x2="436.1" y2="201.62"/>
<line x1="57.0" y1="194.88" x2="59.6" y2="194.88"/>
<line x1="440.5" y1="194.88" x2="437.9" y2="194.88"/>
<line x1="57.0" y1="188.14" x2="59.6" y2="188.14"/>
<line x1="440.5" y1="188.14" x2="437.9" y2="188.14"/>
<line x1="57.0" y1="181.40" x2="59.6" y2="181.40"/>
<line x1="440.5" y1="181.40" x2="437.9" y2="181.40"/>
<line x1="57.0" y1="174.67" x2="59.6" y2="174.67"/>
<line x1="440.5" y1="174.67" x2="437.9" y2="174.67"/>
<line x1="57.0" y1="167.93" x2="61.4" y2="167.93"/>
<line x1="440.5" y1="167.93" x2="436.1" y2="167.93"/>
<line x1="57.0" y1="161.19" x2="59.6" y2="161.19"/>
<line x1="440.5" y1="161.19" x2="437.9" y2="161.19"/>
<line x1="57.0" y1="154.46" x2="59.6" y2="154.46"/>
<line x1="440.5" y1="154.46" x2="437.9" y2="154.46"/>
<line x1="57.0" y1="147.72" x2="59.6" y2="147.72"/>
<line x1="440.5" y1="147.72" x2="437.9" y2="147.72"/>
<line x1="57.0" y1="140.98" x2="59.6" y2="140.98"/>
<line x1="440.5" y1="140.98" x2="437.9" y2="140.98"/>
<line x1="57.0" y1="134.25" x2="61.4" y2="134.25"/>
<line x1="440.5" y1="134.25" x2="436.1" y2="134.25"/>
<line x1="57.0" y1="127.51" x2="59.6" y2="127.51"/>
<line x1="440.5" y1="127.51" x2="437.9" y2="127.51"/>
<line x1="57.0" y1="120.77" x2="59.6" y2="120.77"/>
<line x1="440.5" y1="120.77" x2="437.9" y2="120.77"/>
<line x1="57.0" y1="114.03" x2="59.6" y2="114.03"/>
<line x1="440.5" y1="114.03" x2="437.9" y2="114.03"/>
<line x1="57.0" y1="107.30" x2="59.6" y2="107.30"/>
<line x1="440.5" y1="107.30" x2="437.9" y2="107.30"/>
<line x1="57.0" y1="100.56" x2="61.4" y2="100.56"/>
<line x1="440.5" y1="100.56" x2="436.1" y2="100.56"/>
<line x1="57.0" y1="93.82" x2="59.6" y2="93.82"/>
<line x1="440.5" y1="93.82" x2="437.9" y2="93.82"/>
<line x1="57.0" y1="87.09" x2="59.6" y2="87.09"/>
<line x1="440.5" y1="87.09" x2="437.9" y2="87.09"/>
<line x1="57.0" y1="80.35" x2="59.6" y2="80.35"/>
<line x1="440.5" y1="80.35" x2="437.9" y2="80.35"/>
<line x1="57.0" y1="73.61" x2="59.6" y2="73.61"/>
<line x1="440.5" y1="73.61" x2="437.9" y2="73.61"/>
<line x1="57.0" y1="66.88" x2="61.4" y2="66.88"/>
<line x1="440.5" y1="66.88" x2="436.1" y2="66.88"/>
<line x1="57.0" y1="60.14" x2="59.6" y2="60.14"/>
<line x1="440.5" y1="60.14" x2="437.9" y2="60.14"/>
<line x1="57.0" y1="53.40" x2="59.6" y2="53.40"/>
<line x1="440.5" y1="53.40" x2="437.9" y2="53.40"/>
<line x1="57.0" y1="46.66" x2="59.6" y2="46.66"/>
<line x1="440.5" y1="46.66" x2="437.9" y2="46.66"/>
<line x1="57.0" y1="39.93" x2="59.6" y2="39.93"/>
<line x1="440.5" y1="39.93" x2="437.9" y2="39.93"/>
<line x1="57.0" y1="33.19" x2="61.4" y2="33.19"/>
<line x1="440.5" y1="33.19" x2="436.1" y2="33.19"/>
<line x1="57.0" y1="26.45" x2="59.6" y2="26.45"/>
<line x1="440.5" y1="26.45" x2="437.9" y2="26.45"/>
<line x1="57.0" y1="19.72" x2="59.6" y2="19.72"/>
<line x1="440.5" y1="19.72" x2="437.9" y2="19.72"/>
<line x1="57.0" y1="12.98" x2="59.6" y2="12.98"/>
<line x1="440.5" y1="12.98" x2="437.9" y2="12.98"/>
<line x1="57.0" y1="6.24" x2="59.6" y2="6.24"/>
<line x1="440.5" y1="6.24" x2="437.9" y2="6.24"/>
</g>
<rect x="57.0" y="2.5" width="383.5" height="237.5" fill="none" stroke="#262626" stroke-width="1"/>
<g font-size="17.7px">
<text x="53.5" y="242.25" text-anchor="end">0.0</text>
<text x="53.5" y="208.56" text-anchor="end">0.5</text>
<text x="53.5" y="174.88" text-anchor="end">1.0</text>
<text x="53.5" y="141.19" text-anchor="end">1.5</text>
<text x="53.5" y="107.51" text-anchor="end">2.0</text>
<text x="53.5" y="73.83" text-anchor="end">2.5</text>
<text x="53.5" y="40.14" text-anchor="end">3.0</text>
<text x="57.00" y="260.1" text-anchor="middle">−1.0</text>
<text x="152.88" y="260.1" text-anchor="middle">−0.5</text>
<text x="248.75" y="260.1" text-anchor="middle">0.0</text>
<text x="344.62" y="260.1" text-anchor="middle">0.5</text>
<text x="440.50" y="260.1" text-anchor="middle">1.0</text>
</g>
<text x="249.2" y="288.1" font-size="17.5px" font-style="italic" text-anchor="middle">Y</text>
<g transform="translate(16.1,121.8) rotate(-90)" font-size="17.2px"><text x="-16.0" y="0"><tspan font-style="italic">g</tspan>(Y)</text><text x="-15.0" y="-2.4">˜</text></g>
<line x1="472.8" y1="78.0" x2="523.1" y2="78.0" stroke="#5E81B5" stroke-width="2.1" stroke-dasharray="3.3 3.0"/>
<text font-size="16.0px" y="83.0"><tspan x="531.9" font-style="italic">Q</tspan><tspan x="543.5" dy="3.0" font-style="italic" font-size="12.2px">f</tspan><tspan x="549.0" dy="-3.0">=10</tspan><tspan dx="0.7" dy="-6.1" font-size="11.4px">−5</tspan></text>
<line x1="472.8" y1="107.1" x2="523.1" y2="107.1" stroke="#E19C24" stroke-width="2.1" stroke-dasharray="6.7 3.4"/>
<text font-size="16.0px" y="112.1"><tspan x="531.9" font-style="italic">Q</tspan><tspan x="543.5" dy="3.0" font-style="italic" font-size="12.2px">f</tspan><tspan x="549.0" dy="-3.0">=10</tspan><tspan dx="0.7" dy="-6.1" font-size="11.4px">−1</tspan></text>
<line x1="472.8" y1="133.9" x2="520.5" y2="133.9" stroke="#8FB032" stroke-width="2.1" stroke-dasharray="3.4 2.8 7.4 2.8"/>
<text font-size="16.0px" y="138.9"><tspan x="531.9" font-style="italic">Q</tspan><tspan x="543.5" dy="3.0" font-style="italic" font-size="12.2px">f</tspan><tspan x="549.0" dy="-3.0">=1</tspan></text>
<line x1="472.8" y1="161.1" x2="523.1" y2="161.1" stroke="#EB6235" stroke-width="2.1" stroke-dasharray="24 2.3"/>
<text font-size="16.0px" y="165.9"><tspan x="531.9" font-style="italic">Q</tspan><tspan x="543.5" dy="3.0" font-style="italic" font-size="12.2px">f</tspan><tspan x="549.0" dy="-3.0">=3</tspan></text>
<line x1="472.8" y1="188.2" x2="523.1" y2="188.2" stroke="#8778B3" stroke-width="2.1" stroke-dasharray="15.3 6.4"/>
<text font-size="16.0px" y="193.0"><tspan x="531.9" font-style="italic">Q</tspan><tspan x="543.5" dy="3.0" font-style="italic" font-size="12.2px">f</tspan><tspan x="549.0" dy="-3.0">=6</tspan></text>
<line x1="472.8" y1="215.3" x2="523.1" y2="215.3" stroke="#C56E1A" stroke-width="2.1"/>
<text font-size="16.0px" y="219.9"><tspan x="531.9" font-style="italic">Q</tspan><tspan x="543.5" dy="3.0" font-style="italic" font-size="12.2px">f</tspan><tspan x="549.0" dy="-3.0">=10</tspan></text>
</svg></body></html>
